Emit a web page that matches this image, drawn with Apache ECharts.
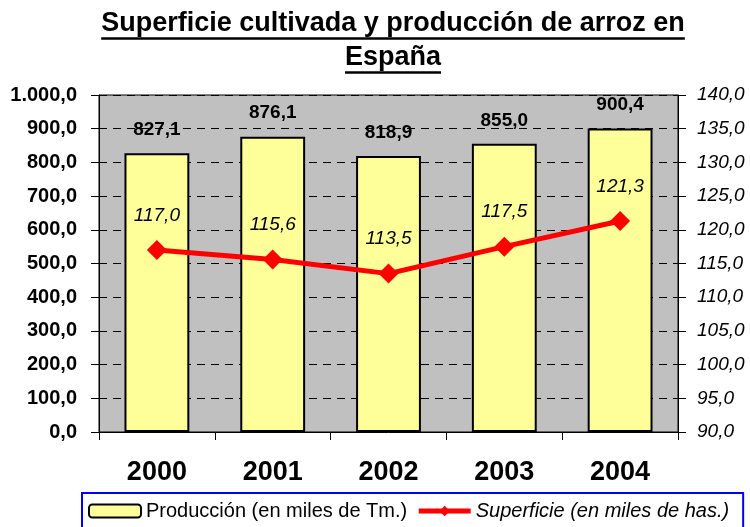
<!DOCTYPE html>
<html>
<head>
<meta charset="utf-8">
<script src="https://cdn.jsdelivr.net/npm/echarts@6/dist/echarts.min.js"></script>
<style>
  html, body { margin: 0; padding: 0; background: #fff; }
  #echarts { width: 750px; height: 527px; }
</style>
</head>
<body>
<div id="echarts"></div>
<script>
// datos
const years = ['2000', '2001', '2002', '2003', '2004']
const produccion = [827.1, 876.1, 818.9, 855.0, 900.4]
const superficie = [117.0, 115.6, 113.5, 117.5, 121.3]

const font = '"Liberation Sans", Arial, sans-serif'
const titleLines = ['Superficie cultivada y producción de arroz en', 'España']

// formato español: 1.000,0
let fmt = v => {
  let s = Number(v).toFixed(1).replace('.', ',')
  let [ent, dec] = s.split(',')
  ent = ent.replace(/\B(?=(\d{3})+(?!\d))/g, '.')
  return ent + ',' + dec
}

// medir ancho del titulo para el subrayado
let ctx = document.createElement('canvas').getContext('2d')
ctx.font = 'bold 27px ' + font
let titleX = 393
let underline = titleLines.map((t, i) => {
  let w = ctx.measureText(t).width
  let y = 38.5 + i * 34
  return {
    type: 'line',
    shape: { x1: titleX - w / 2, y1: y, x2: titleX + w / 2, y2: y },
    style: { stroke: '#000', lineWidth: 2.5 }
  }
})

let myChart = echarts.init(document.getElementById('echarts'))
let options = {
  textStyle: { fontFamily: font },
  title: {
    text: titleLines.join('\n'),
    left: titleX,
    top: 7,
    padding: 0,
    textAlign: 'center',
    textStyle: { fontSize: 27, fontWeight: 'bold', color: '#000', lineHeight: 34, fontFamily: font }
  },
  graphic: underline,
  legend: {
    left: 82,
    top: 493,
    width: 720,
    padding: [8, 14, 20, 6],
    borderColor: '#0000FF',
    borderWidth: 2,
    backgroundColor: '#fff',
    itemWidth: 52,
    itemHeight: 13,
    itemGap: 9,
    textStyle: { fontSize: 20, color: '#000', fontFamily: font },
    data: [
      { name: 'Producción (en miles de Tm.)' },
      {
        name: 'Superficie (en miles de has.)',
        textStyle: { fontStyle: 'italic' },
        lineStyle: { width: 5 }
      }
    ]
  },
  grid: {
    left: 99,
    right: 72,
    top: 95,
    bottom: 95,
    show: true,
    backgroundColor: '#C0C0C0',
    borderColor: '#000',
    borderWidth: 1
  },
  xAxis: {
    type: 'category',
    data: years,
    axisLine: { lineStyle: { color: '#000', width: 1 } },
    axisTick: { show: true, length: 8, inside: false, lineStyle: { color: '#000' } },
    axisLabel: { fontSize: 27, fontWeight: 'bold', color: '#000', margin: 27, fontFamily: font }
  },
  yAxis: [
    {
      type: 'value',
      min: 0,
      max: 1000,
      interval: 100,
      axisLine: { show: true, lineStyle: { color: '#000' } },
      axisTick: { show: true, length: 8, lineStyle: { color: '#000' } },
      axisLabel: { formatter: fmt, fontSize: 20, fontWeight: 'bold', color: '#000', margin: 22, fontFamily: font },
      splitLine: { show: true, lineStyle: { color: '#000', type: [8, 6], width: 1 } }
    },
    {
      type: 'value',
      min: 90,
      max: 140,
      interval: 5,
      position: 'right',
      axisLine: { show: true, lineStyle: { color: '#000' } },
      axisTick: { show: true, length: 8, lineStyle: { color: '#000' } },
      axisLabel: { formatter: fmt, fontSize: 19, fontStyle: 'italic', color: '#000', margin: 19, fontFamily: font },
      splitLine: { show: false }
    }
  ],
  series: [
    {
      name: 'Producción (en miles de Tm.)',
      type: 'bar',
      data: produccion,
      barWidth: '56%',
      itemStyle: { color: '#FFFF99', borderColor: '#000', borderWidth: 2 },
      label: {
        show: true,
        position: 'top',
        distance: 14,
        formatter: p => fmt(p.value),
        fontSize: 19,
        fontWeight: 'bold',
        color: '#000',
        fontFamily: font
      }
    },
    {
      name: 'Superficie (en miles de has.)',
      type: 'line',
      yAxisIndex: 1,
      data: superficie,
      symbol: 'diamond',
      symbolSize: 20,
      color: '#FF0000',
      lineStyle: { color: '#FF0000', width: 5 },
      itemStyle: { color: '#FF0000' },
      label: {
        show: true,
        position: 'top',
        distance: 15,
        formatter: p => fmt(p.value),
        fontSize: 19,
        fontStyle: 'italic',
        color: '#000',
        fontFamily: font
      },
      z: 5
    }
  ]
}

myChart.setOption(options)
</script>
</body>
</html>
